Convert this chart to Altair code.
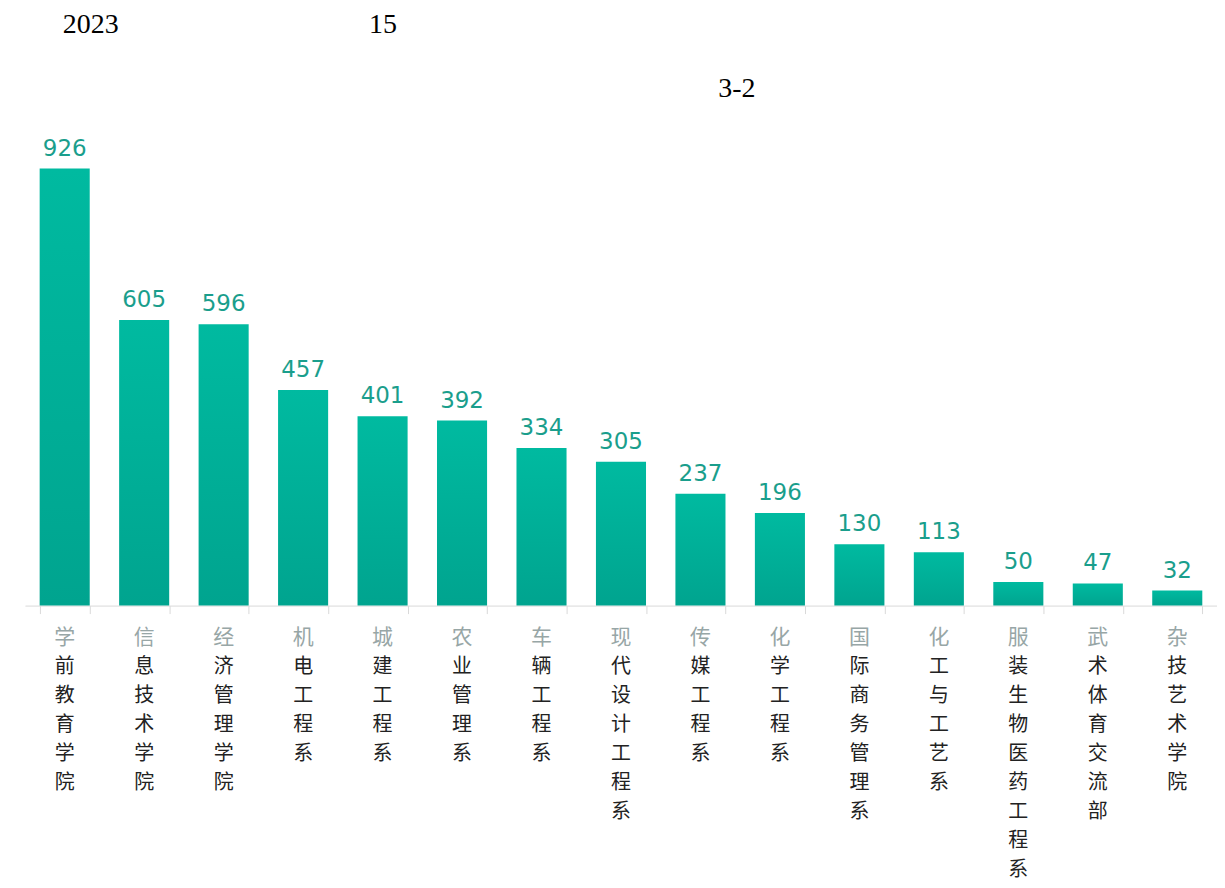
import altair as alt
import pandas as pd

departments = [
    "学前教育学院", "信息技术学院", "经济管理学院", "机电工程系", "城建工程系",
    "农业管理系", "车辆工程系", "现代设计工程系", "传媒工程系", "化学工程系",
    "国际商务管理系", "化工与工艺系", "服装生物医药工程系", "武术体育交流部", "杂技艺术学院",
]
graduates = [926, 605, 596, 457, 401, 392, 334, 305, 237, 196, 130, 113, 50, 47, 32]

title_left = "2023"
title_mid = "15"
figure_no = "3-2"

df = pd.DataFrame({"dept": departments, "count": graduates})

W, H = 1195, 598
x_enc = alt.X("dept:N", sort=None, title=None,
              scale=alt.Scale(paddingInner=0.37, paddingOuter=0.185),
              axis=alt.Axis(labels=False, ticks=True, tickBand="extent", tickSize=8,
                            tickColor="#d9d9d9", domainColor="#d9d9d9", grid=False))
y_enc = alt.Y("count:Q", scale=alt.Scale(domain=[0, 1264], nice=False), axis=None, title=None)

base = alt.Chart(df)

bars = base.mark_bar(
    color=alt.Gradient(
        gradient="linear",
        stops=[alt.GradientStop(color="#00BAA0", offset=0),
               alt.GradientStop(color="#00A48F", offset=1)],
        x1=0, x2=0, y1=0, y2=1,
    )
).encode(x=x_enc, y=y_enc)

values = base.mark_text(font="DejaVu Sans", fontSize=23, color="#1a9e8c",
                        dy=-8, baseline="bottom").encode(
    x=alt.X("dept:N", sort=None), y=alt.Y("count:Q"), text="count:Q")

first_char = base.transform_calculate(c="substring(datum.dept, 0, 1)").mark_text(
    font="Noto Sans CJK SC", fontSize=21, color="#97a6a6", baseline="middle"
).encode(x=alt.X("dept:N", sort=None), y=alt.value(H + 32), text=alt.Text("c:N"))

rest_chars = base.transform_calculate(c="split(substring(datum.dept, 1), '')").mark_text(
    font="Noto Sans CJK SC", fontSize=20, color="#222222", baseline="top", lineHeight=29
).encode(x=alt.X("dept:N", sort=None), y=alt.value(H + 52), text=alt.Text("c:N"))

tdf = pd.DataFrame({"t": [0]})
def title_text(s, xp, yp):
    return alt.Chart(tdf).mark_text(font="Liberation Serif", fontSize=28, color="#000000",
                                    align="left", baseline="alphabetic", text=s).encode(
        x=alt.value(xp), y=alt.value(yp))

titles = title_text(title_left, 38, 24) + title_text(title_mid, 345, 24) + title_text(figure_no, 695, 88)

chart = alt.layer(bars, values, first_char, rest_chars, titles).properties(
    width=W, height=H, background="white",
    padding={"left": 17, "top": 0, "right": 0, "bottom": 0}
).configure_view(stroke=None)

chart.save("out.html", embed_options={"renderer": "svg", "actions": False})
